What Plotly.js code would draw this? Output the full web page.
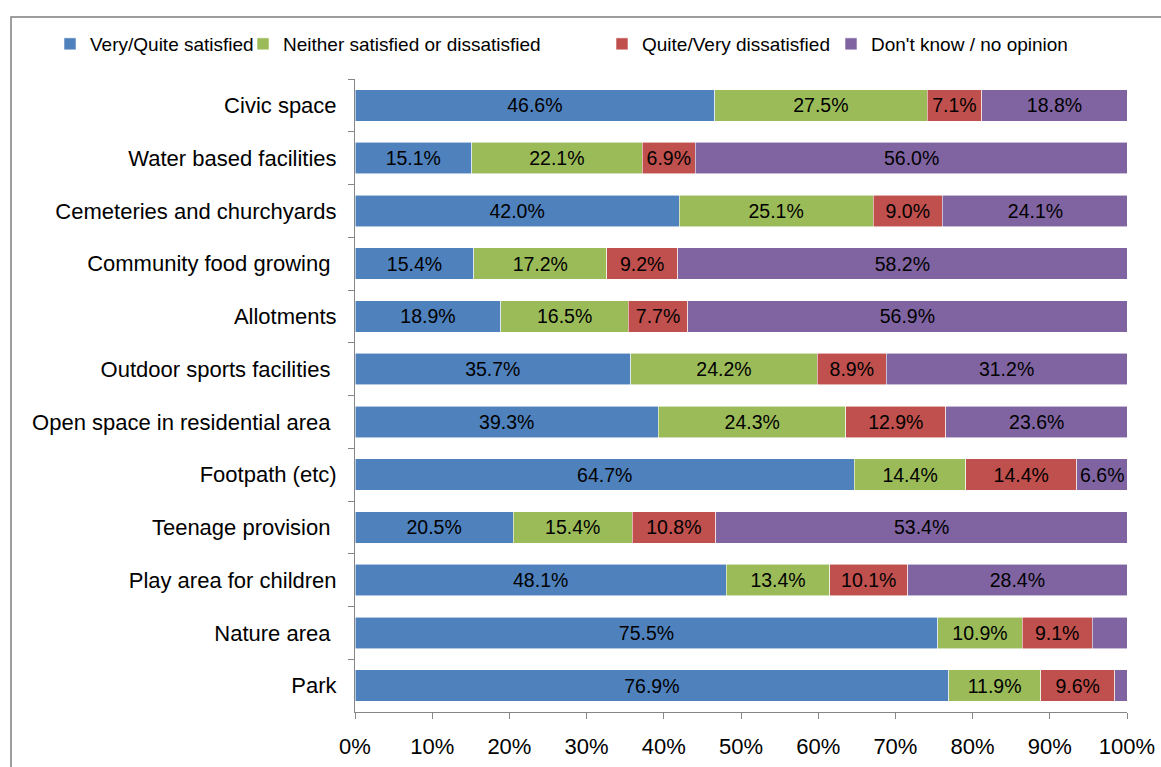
<!DOCTYPE html>
<html>
<head>
<meta charset="utf-8">
<script src="https://cdn.plot.ly/plotly-3.0.1.min.js"></script>
<style>html,body{margin:0;padding:0;background:#fff;}#chart{width:1161px;height:767px;}</style>
</head>
<body>
<div id="chart"></div>
<script>
const categories = ["Civic space","Water based facilities","Cemeteries and churchyards","Community food growing ","Allotments","Outdoor sports facilities ","Open space in residential area ","Footpath (etc)","Teenage provision ","Play area for children","Nature area ","Park"];
const seriesNames = ["Very/Quite satisfied","Neither satisfied or dissatisfied","Quite/Very dissatisfied","Don't know / no opinion"];
const satisfied    = [46.6,15.1,42.0,15.4,18.9,35.7,39.3,64.7,20.5,48.1,75.5,76.9];
const neither      = [27.5,22.1,25.1,17.2,16.5,24.2,24.3,14.4,15.4,13.4,10.9,11.9];
const dissatisfied = [7.1,6.9,9.0,9.2,7.7,8.9,12.9,14.4,10.8,10.1,9.1,9.6];
const dontKnow     = [18.8,56.0,24.1,58.2,56.9,31.2,23.6,6.6,53.4,28.4,4.5,1.6];
const showLabel    = [true,true,true,true,true,true,true,true,true,true,false,false];
const colors = ["#4F81BD","#9BBB59","#C0504D","#8064A2"];
const values = [satisfied, neither, dissatisfied, dontKnow];
const legendIds = ['legend','legend2','legend3','legend4'];

const traces = values.map((v, i) => ({
  type: 'bar',
  orientation: 'h',
  name: seriesNames[i],
  legend: legendIds[i],
  y: categories,
  x: v,
  text: v.map((d, j) => (i === 3 && !showLabel[j]) ? '' : d.toFixed(1) + '%'),
  textposition: 'inside',
  insidetextanchor: 'middle',
  textangle: 0,
  constraintext: 'none',
  textfont: {family: 'Liberation Sans, Arial, sans-serif', size: 19.5, color: '#000'},
  marker: {color: colors[i], line: {color: 'rgba(255,255,255,0.7)', width: 0.8}},
  hoverinfo: 'x+y+name'
}));

// plot area in pixels: x 355..1127, y 79..712
const PL = 355, PW = 772, PB = 712, PH = 633;
const legendSymbolCenter = [70, 263, 622, 851];
const legendY = 44;
function legendObj(px) {
  return {
    orientation: 'h', xref: 'paper', yref: 'paper',
    x: (px - 20 - PL) / PW, xanchor: 'left',
    y: (PB - legendY) / PH, yanchor: 'middle',
    bgcolor: 'rgba(0,0,0,0)', borderwidth: 0,
    font: {size: 19, color: '#000'}, itemwidth: 30
  };
}

const layout = {
  width: 1161, height: 767,
  margin: {l: 355, r: 34, t: 79, b: 55},
  barmode: 'stack',
  bargap: 0.4,
  paper_bgcolor: '#fff',
  plot_bgcolor: '#fff',
  font: {family: 'Liberation Sans, Arial, sans-serif', size: 22, color: '#000'},
  showlegend: true,
  legend: legendObj(legendSymbolCenter[0]),
  legend2: legendObj(legendSymbolCenter[1]),
  legend3: legendObj(legendSymbolCenter[2]),
  legend4: legendObj(legendSymbolCenter[3]),
  xaxis: {
    range: [0, 100], dtick: 10, ticksuffix: '%',
    showgrid: false, zeroline: false,
    showline: true, linecolor: '#868686', linewidth: 1,
    ticks: 'outside', ticklen: 6, tickcolor: '#868686',
    ticklabelstandoff: 9,
    tickfont: {size: 22}, fixedrange: true
  },
  yaxis: {
    type: 'category', autorange: false, range: [11.5, -0.5],
    showgrid: false, zeroline: false,
    showline: true, linecolor: '#868686', linewidth: 1,
    ticks: 'outside', ticklen: 6, tickcolor: '#868686', tickson: 'boundaries',
    ticklabelstandoff: 13,
    tickfont: {size: 22}, fixedrange: true
  },
  shapes: [{
    type: 'rect', xref: 'paper', yref: 'paper',
    x0: (11 - PL) / PW, x1: 1.2, y0: -0.3, y1: (PB - 17) / PH,
    line: {color: '#7f7f7f', width: 1.5}, fillcolor: 'rgba(0,0,0,0)', layer: 'below'
  }]
};

Plotly.newPlot('chart', traces, layout, {displayModeBar: false, staticPlot: true});
</script>
</body>
</html>
